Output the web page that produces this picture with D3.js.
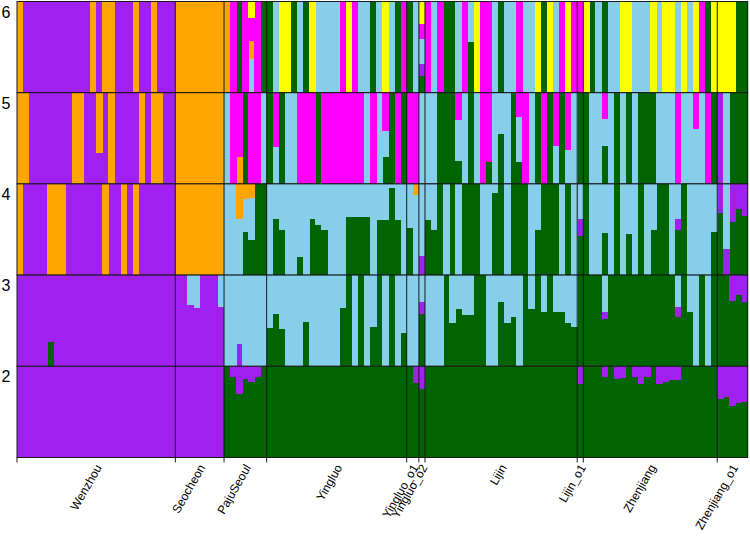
<!DOCTYPE html>
<html>
<head>
<meta charset="utf-8">
<script src="https://cdn.jsdelivr.net/npm/d3@7/dist/d3.min.js"></script>
<style>
  body { margin: 0; background: #fff; }
  svg { display: block; font-family: "Liberation Sans", Arial, sans-serif; }
  .frame { fill: none; stroke: #1a1a1a; stroke-width: 1px; }
  .sep { stroke: #1a1a1a; stroke-width: 1px; }
  .klab { font-size: 16px; fill: #000; }
  .poplab { font-size: 12px; fill: #000; }
</style>
</head>
<body>
<svg id="chart" width="750" height="537"></svg>
<script>
// populations in plot order and number of individuals in each
const pops = ["Wenzhou", "Seocheon", "PajuSeoul", "Yingluo", "Yingluo_o1", "Yingluo_o2",
              "Lijin", "Lijin_o1", "Zhenjiang", "Zhenjiang_o1"];
const popSizes = [26, 8, 7, 23, 2, 1, 25, 1, 22, 5];
const kValues = [6, 5, 4, 3, 2];

// cluster keys, stacked bottom -> top
const clusters = ["g", "p", "s", "o", "m", "y"];
const clusterColors = ["#006400", "#A020F0", "#87CEEB", "#FFA500", "#FF00FF", "#FFFF00"];

// membership per individual; a letter = single cluster (q = 1)
const k6 = [
  "O","P","P","P","P","P","P","P","P","P","P","P","O","P","O","O","P","P","P","O","P","P","O","P","P","P",
  "O","O","O","O","O","O","O","O",
  "O","M","G","M",{s:.37,o:.2,m:.25,y:.18},"M","G",
  "G","S","Y","Y","G","S","G","Y","S","S","S","S","M","Y","M","S","S","G","S","Y","S","G","M",
  "G","S",
  {g:.18,p:.13,s:.28,m:.16,y:.25},
  "M","S","M","G","G","S","M",{g:.56,s:.44},"Y","M","M","S","G","S","S","M","S","S","Y","G","Y","S","M","Y","M",
  "M",
  "Y","G","S","G","S","S","Y","Y","S","S","S","Y","S","Y","Y","S","Y","S","Y","M","G","Y",
  "Y","Y","Y","G","G"
];
const k5 = [
  "O","O","P","P","P","P","P","P","P","O","O","P","P",{p:.34,o:.66},"P","O","P","P","P","P","O","P","O","O","P","P",
  "O","O","O","O","O","O","O","O",
  "S","M",{o:.3,m:.7},"G","M","M","S",
  "G",{s:.4,m:.6},"G","S","S","M","M","M","G","M","M","M","M","M","M","M","S","M","S",{g:.3,s:.28,m:.42},"G","M","G",
  "M","M",
  "S",
  "S","S","G","G","G",{g:.25,s:.45,m:.3},"S","G","S","M",{g:.24,m:.76},"S",{g:.55,s:.45},"S","G",{g:.24,s:.49,m:.27},"M","S","G","M","G",{s:.42,m:.58},"G",{s:.37,m:.63},"S",
  "G",
  "G","S","S",{g:.42,s:.29,m:.29},"S","G","S","G","S","G","G","G","S","S","S","M","S","S",{s:.6,m:.4},"S","M","G",
  "P","S","G","G","G"
];
const k4 = [
  "O","P","P","P","P","O","O","O","P","P","P","P","P","P","O","P","P","O","P","O","P","P","P","P","P","P",
  "O","O","O","O","O","O","O","O",
  "S","S",{s:.61,o:.39},{g:.47,s:.36,o:.17},{g:.38,s:.46,o:.16},"G","G",
  "S",{g:.62,s:.38},{g:.5,s:.5},"S","S",{g:.2,s:.8},"S",{g:.62,s:.38},{g:.55,s:.45},{g:.5,s:.5},"S","S","S",{g:.64,s:.36},{g:.64,s:.36},{g:.64,s:.36},{g:.64,s:.36},"S",{g:.6,s:.4},{g:.6,s:.4},{g:.95,s:.05},{g:.6,s:.4},"S",
  {g:.52,s:.48},{s:.88,o:.12},
  {p:.21,s:.79},
  {g:.6,s:.4},{g:.5,s:.5},"G","S","G","S","G","G","G","S","S",{g:.9,s:.1},"G","S","G","G","G","S",{g:.5,s:.5},"G","G","G","S","G","S",
  {g:.43,p:.19,s:.38},
  "G","S","S",{g:.46,s:.54},"S","G","S",{g:.45,s:.55},"S","G","S",{g:.5,s:.5},"G","G","S",{g:.49,p:.13,s:.38},"G","S","S","S","S",{g:.47,s:.53},
  {g:.68,p:.32},{p:.29,s:.71},{g:.58,p:.42},{g:.73,p:.27},{g:.65,p:.35}
];
const k3 = [
  "P","P","P","P","P",{g:.27,p:.73},"P","P","P","P","P","P","P","P","P","P","P","P","P","P","P","P","P","P","P","P",
  "P","P",{p:.67,s:.33},{p:.64,s:.36},"P","P","P",{p:.65,s:.35},
  "S","S",{p:.25,s:.75},"S","S","S","S",
  {g:.42,s:.58},{g:.57,s:.43},{g:.41,s:.59},"S","S","S",{g:.49,s:.51},"S","S","S","S","S",{g:.64,s:.36},"G","S","G","S",{g:.43,s:.57},"G","S","G","S",{g:.37,s:.63},
  "S","S",
  {g:.57,p:.13,s:.3},
  "S","S","S","G",{g:.48,s:.52},{g:.63,s:.37},{g:.56,s:.44},{g:.56,s:.44},"G","G","S","S",{g:.7,s:.3},{g:.48,s:.52},{g:.54,s:.46},"S","G",{g:.63,s:.37},"G",{g:.59,s:.41},"G",{g:.6,s:.4},{g:.59,s:.41},{g:.47,s:.53},{g:.43,s:.57},
  "G",
  "G","G","G",{g:.52,p:.08,s:.4},"G","G","G","G","G","G","G","G","G","G","G",{g:.54,p:.11,s:.35},"G",{g:.59,s:.41},"S","G","S","G",
  "G","G",{g:.72,p:.28},{g:.78,p:.22},{g:.7,p:.3}
];
const k2 = [
  "P","P","P","P","P","P","P","P","P","P","P","P","P","P","P","P","P","P","P","P","P","P","P","P","P","P",
  "P","P","P","P","P","P","P","P",
  "G",{g:.88,p:.12},{g:.7,p:.3},{g:.86,p:.14},{g:.83,p:.17},{g:.88,p:.12},"G",
  "G","G","G","G","G","G","G","G","G","G","G","G","G","G","G","G","G","G","G","G","G","G","G",
  "G",{g:.82,p:.18},
  {g:.75,p:.25},
  "G","G","G","G","G","G","G","G","G","G","G","G","G","G","G","G","G","G","G","G","G","G","G","G","G",
  {g:.81,p:.19},
  "G","G","G",{g:.88,p:.12},"G",{g:.86,p:.14},{g:.87,p:.13},"G",{g:.88,p:.12},{g:.81,p:.19},{g:.88,p:.12},"G",{g:.81,p:.19},{g:.83,p:.17},{g:.85,p:.15},{g:.85,p:.15},"G","G","G","G","G","G",
  {g:.64,p:.36},{g:.66,p:.34},{g:.56,p:.44},{g:.6,p:.4},{g:.61,p:.39}
];
const qByK = {6: k6, 5: k5, 4: k4, 3: k3, 2: k2};

const svg = d3.select("#chart");
const plotLeft = 17, plotRight = 747.7, plotTop = 1.5, plotBottom = 457.5;

// individuals with their population
const inds = [];
pops.forEach((p, i) => { for (let j = 0; j < popSizes[i]; j++) inds.push(p); });

const x = d3.scaleBand().domain(d3.range(inds.length)).range([plotLeft, plotRight]).padding(0);
const row = d3.scaleBand().domain(kValues).range([plotTop, plotBottom]).padding(0);
const color = d3.scaleOrdinal().domain(clusters).range(clusterColors);

function toRow(q) {
  const r = {};
  clusters.forEach(c => r[c] = 0);
  if (typeof q === "string") r[q.toLowerCase()] = 1;
  else Object.keys(q).forEach(c => r[c] = q[c]);
  return r;
}

kValues.forEach(k => {
  const y = d3.scaleLinear().domain([0, 1]).range([row(k) + row.bandwidth(), row(k)]);
  const rows = qByK[k].map(toRow);
  const series = d3.stack().keys(clusters)(rows);
  const g = svg.append("g").attr("shape-rendering", "crispEdges");
  g.selectAll("g").data(series).join("g")
    .attr("fill", d => color(d.key))
    .selectAll("rect").data(d => d.map((v, i) => [v[0], v[1], i]).filter(v => v[1] > v[0]))
    .join("rect")
      .attr("x", d => x(d[2]))
      .attr("width", x.bandwidth() + 0.3)
      .attr("y", d => y(d[1]))
      .attr("height", d => y(d[0]) - y(d[1]));

  svg.append("rect").attr("class", "frame")
    .attr("x", plotLeft).attr("y", row(k))
    .attr("width", plotRight - plotLeft).attr("height", row.bandwidth());

  svg.append("text").attr("class", "klab")
    .attr("x", 1.5).attr("y", row(k) + 16)
    .text(k);
});

// population boundaries
const bounds = [0].concat(Array.from(d3.cumsum(popSizes)));
svg.append("g").selectAll("line").data(bounds.slice(1, -1)).join("line")
  .attr("class", "sep")
  .attr("x1", d => x(d)).attr("x2", d => x(d))
  .attr("y1", plotTop).attr("y2", plotBottom);
svg.append("g").selectAll("line").data(bounds.slice(0, -1)).join("line")
  .attr("class", "sep")
  .attr("x1", d => x(d)).attr("x2", d => x(d))
  .attr("y1", plotBottom).attr("y2", plotBottom + 5);

// population labels
svg.append("g").selectAll("text").data(pops).join("text")
  .attr("class", "poplab")
  .attr("text-anchor", "end")
  .attr("transform", (p, i) => {
    const cx = x(bounds[i]) + (popSizes[i] * x.step()) / 2 + 6;
    return `translate(${cx},${plotBottom + 10}) rotate(-60)`;
  })
  .text(d => d);
</script>
</body>
</html>
